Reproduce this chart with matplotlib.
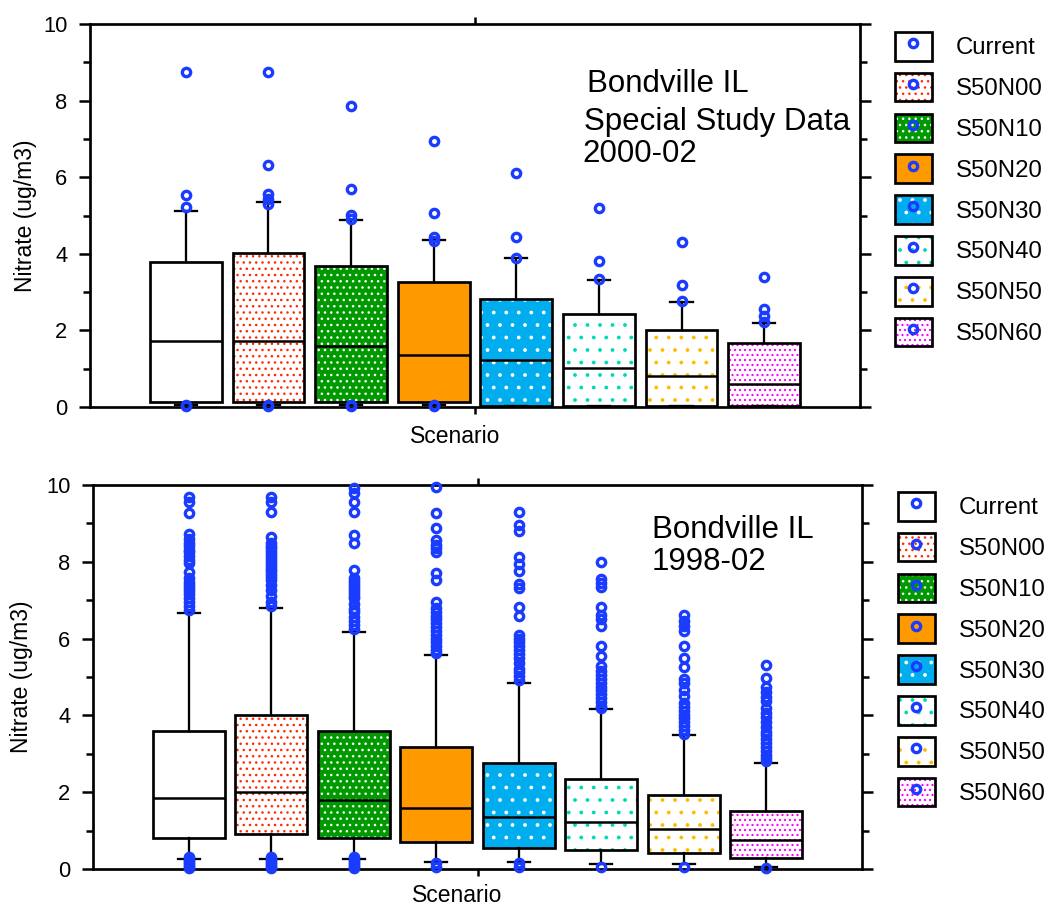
import numpy as np
import matplotlib
matplotlib.use('Agg')
import matplotlib.pyplot as plt
from matplotlib.patches import Patch, PathPatch
from matplotlib.lines import Line2D
from matplotlib.legend_handler import HandlerTuple

plt.rcParams['font.family'] = ['Liberation Sans', 'DejaVu Sans']
plt.rcParams['hatch.linewidth'] = 0.6

# ---------------- data ----------------
scenarios = ['Current', 'S50N00', 'S50N10', 'S50N20', 'S50N30', 'S50N40', 'S50N50', 'S50N60']

# Panel 1: Bondville IL special study data 2000-02
top_q1 = [0.12, 0.12, 0.12, 0.12, 0.03, 0.03, 0.03, 0.03]
top_med = [1.72, 1.73, 1.58, 1.37, 1.23, 1.02, 0.80, 0.60]
top_q3 = [3.79, 4.02, 3.67, 3.26, 2.83, 2.42, 2.00, 1.67]
top_whislo = [0.05, 0.05, 0.05, 0.05, 0.02, 0.02, 0.02, 0.02]
top_whishi = [5.12, 5.35, 4.87, 4.37, 3.88, 3.32, 2.75, 2.20]
top_fliers_current = [8.75, 5.53, 5.23, 0.04, 0.02]
top_fliers_s50n00 = [8.75, 6.32, 5.55, 5.42, 5.30, 0.04, 0.02]
top_fliers_s50n10 = [7.87, 5.69, 5.02, 4.90, 0.04, 0.02]
top_fliers_s50n20 = [6.95, 5.07, 4.44, 4.33, 0.04, 0.02]
top_fliers_s50n30 = [6.11, 4.44, 3.88]
top_fliers_s50n40 = [5.20, 3.80, 3.35]
top_fliers_s50n50 = [4.30, 3.18, 2.78]
top_fliers_s50n60 = [3.40, 2.57, 2.37, 2.21]

# Panel 2: Bondville IL 1998-02
bot_q1 = [0.80, 0.91, 0.82, 0.70, 0.54, 0.49, 0.41, 0.28]
bot_med = [1.85, 2.00, 1.80, 1.58, 1.36, 1.23, 1.03, 0.76]
bot_q3 = [3.59, 4.01, 3.60, 3.18, 2.77, 2.34, 1.93, 1.52]
bot_whislo = [0.27, 0.27, 0.27, 0.19, 0.19, 0.14, 0.14, 0.06]
bot_whishi = [6.67, 6.80, 6.17, 5.57, 4.85, 4.16, 3.49, 2.76]
bot_fliers_current = [9.69, 9.55, 9.26, 8.72, 8.60, 8.48, 8.40, 8.32, 8.25, 8.15, 8.05,
                      7.97, 7.74, 7.57, 7.48, 7.40, 7.32, 7.25, 7.15, 7.05, 6.95, 6.85,
                      6.75, 0.30, 0.24, 0.18, 0.12, 0.07, 0.02]
bot_fliers_s50n00 = [9.69, 9.55, 9.30, 8.65, 8.50, 8.42, 8.35, 8.28, 8.20, 8.12, 8.05,
                     7.98, 7.90, 7.82, 7.75, 7.68, 7.60, 7.53, 7.40, 7.27, 7.12, 6.96,
                     6.85, 0.30, 0.24, 0.18, 0.12, 0.07, 0.02]
bot_fliers_s50n10 = [9.92, 9.80, 9.55, 9.30, 8.70, 8.48, 7.78, 7.58, 7.50, 7.42, 7.35,
                     7.27, 7.20, 7.12, 7.05, 6.90, 6.78, 6.68, 6.55, 6.45, 6.35, 6.25,
                     0.30, 0.24, 0.18, 0.12, 0.07, 0.02]
bot_fliers_s50n20 = [9.95, 9.27, 8.88, 8.57, 8.45, 8.35, 8.26, 7.70, 7.53, 6.96, 6.80,
                     6.70, 6.60, 6.50, 6.40, 6.30, 6.20, 6.10, 6.00, 5.90, 5.80, 5.70,
                     5.62, 0.15, 0.05]
bot_fliers_s50n30 = [9.30, 8.96, 8.80, 8.12, 7.95, 7.76, 7.42, 7.32, 6.82, 6.58, 6.10,
                     6.00, 5.90, 5.80, 5.70, 5.60, 5.50, 5.36, 5.22, 5.12, 5.02, 4.92,
                     0.15, 0.05]
bot_fliers_s50n40 = [8.00, 7.55, 7.45, 7.35, 6.83, 6.62, 6.50, 6.32, 5.80, 5.55, 5.28,
                     5.15, 5.05, 4.95, 4.85, 4.75, 4.65, 4.55, 4.45, 4.35, 4.25, 4.18,
                     0.06]
bot_fliers_s50n50 = [6.61, 6.45, 6.32, 6.20, 5.80, 5.50, 5.25, 4.95, 4.85, 4.66, 4.50,
                     4.32, 4.22, 4.12, 4.02, 3.92, 3.82, 3.72, 3.62, 3.52, 0.06]
bot_fliers_s50n60 = [5.31, 4.97, 4.75, 4.62, 4.48, 4.38, 4.19, 4.05, 3.95, 3.83, 3.70,
                     3.58, 3.48, 3.38, 3.28, 3.18, 3.08, 2.98, 2.88, 2.80, 0.03]

y_ticks = [0, 2, 4, 6, 8, 10]
y_minor = [1, 3, 5, 7, 9]

# ---------------- style ----------------
face_colors = ['white', 'white', '#009a00', '#ff9900', '#00aeef', 'white', 'white', 'white']
hatch_colors = ['white', '#ff2a00', 'white', '#ff9900', 'white', '#00d8b8', '#ffbb00', '#ff00ff']
hatches = ['', '....', '....', '', '..', '..', '..', '.....']
flier_blue = '#1a3cff'
MS, MEW = 4.0, 1.6

W, H, DPI = 1049, 907, 150
fig = plt.figure(figsize=(W / DPI, H / DPI), dpi=DPI)
fig.patch.set_facecolor('white')


def fig_rect(l, t, r, b):
    return [l / W, 1 - b / H, (r - l) / W, (b - t) / H]


def draw_panel(ax, q1, med, q3, wlo, whi, fliers, text_lines):
    positions = np.arange(1, len(scenarios) + 1)
    stats = []
    for i, name in enumerate(scenarios):
        stats.append(dict(label=name, q1=q1[i], med=med[i], q3=q3[i],
                          whislo=wlo[i], whishi=whi[i], fliers=np.array(fliers[i])))
    res = ax.bxp(stats, positions=positions, widths=0.87, capwidths=0.27,
                 patch_artist=True,
                 whiskerprops=dict(color='black', lw=1.1),
                 capprops=dict(color='black', lw=1.1),
                 medianprops=dict(color='black', lw=1.2),
                 flierprops=dict(marker='o', markerfacecolor='none',
                                 markeredgecolor=flier_blue, markersize=MS,
                                 markeredgewidth=MEW))
    for i, box in enumerate(res['boxes']):
        box.set_facecolor(face_colors[i])
        box.set_edgecolor(hatch_colors[i])
        box.set_hatch(hatches[i])
        box.set_linewidth(0)
        outline = PathPatch(box.get_path(), transform=box.get_transform(),
                            fill=False, edgecolor='black', lw=1.3, zorder=2.5)
        ax.add_patch(outline)
    for m in res['medians']:
        m.set_zorder(2.6)
    for f in res['fliers']:
        f.set_clip_on(False)
        f.set_zorder(3)

    ax.set_xlim(-0.16, 9.16)
    ax.set_ylim(0, 10)
    ax.set_xticks([4.5])
    ax.set_xticklabels([''])
    ax.set_yticks(y_ticks)
    ax.set_yticks(y_minor, minor=True)
    ax.tick_params(axis='y', which='major', direction='out', length=5.3, width=1.2,
                   labelsize=10.5, pad=5.5, left=True, right=True, labelright=False)
    ax.tick_params(axis='y', which='minor', direction='out', length=3.3, width=1.2,
                   left=True, right=True)
    ax.tick_params(axis='x', which='major', direction='out', length=3.5, width=1.2,
                   top=True, bottom=True, labelbottom=False)
    for s in ax.spines.values():
        s.set_linewidth(1.3)
    ax.set_ylabel('Nitrate (ug/m3)', fontsize=11)
    ax.set_xlabel('Scenario', fontsize=11)
    for (tx, ty, s) in text_lines:
        ax.text(tx, ty, s, transform=ax.transAxes, fontsize=15, ha='left', va='baseline')


def add_legend(ax, left_px, top_px):
    handles = []
    for i in range(len(scenarios)):
        fillp = Patch(facecolor=face_colors[i], edgecolor=hatch_colors[i], hatch=hatches[i], lw=0)
        edgep = Patch(facecolor='none', edgecolor='black', lw=1.3)
        mk = Line2D([], [], ls='none', marker='o', markerfacecolor='none',
                    markeredgecolor=flier_blue, markersize=MS, markeredgewidth=MEW)
        handles.append((fillp, edgep, mk))
    ax.legend(handles, scenarios, handler_map={tuple: HandlerTuple(ndivide=1, pad=0)},
              loc='upper left', bbox_to_anchor=(left_px / W, 1 - top_px / H),
              bbox_transform=fig.transFigure, frameon=False, borderpad=0,
              borderaxespad=0, fontsize=11.5, handlelength=1.54, handleheight=1.46,
              handletextpad=1.0, labelspacing=0.51)


ax1 = fig.add_axes(fig_rect(90, 24, 860, 407))
draw_panel(ax1, top_q1, top_med, top_q3, top_whislo, top_whishi,
           [top_fliers_current, top_fliers_s50n00, top_fliers_s50n10, top_fliers_s50n20,
            top_fliers_s50n30, top_fliers_s50n40, top_fliers_s50n50, top_fliers_s50n60],
           [(0.645, 0.822, 'Bondville IL'), (0.642, 0.723, 'Special Study Data'),
            (0.639, 0.640, '2000-02')])
ax1.yaxis.set_label_coords(-0.069, 0.5)
ax1.xaxis.set_label_coords(0.474, -0.048)
add_legend(ax1, 895, 32)

ax2 = fig.add_axes(fig_rect(93, 485, 862, 869))
draw_panel(ax2, bot_q1, bot_med, bot_q3, bot_whislo, bot_whishi,
           [bot_fliers_current, bot_fliers_s50n00, bot_fliers_s50n10, bot_fliers_s50n20,
            bot_fliers_s50n30, bot_fliers_s50n40, bot_fliers_s50n50, bot_fliers_s50n60],
           [(0.727, 0.862, 'Bondville IL'), (0.727, 0.779, '1998-02')])
ax2.yaxis.set_label_coords(-0.078, 0.5)
ax2.xaxis.set_label_coords(0.473, -0.038)
add_legend(ax2, 898, 492)

fig.savefig('out.png', dpi=DPI, facecolor='white')
